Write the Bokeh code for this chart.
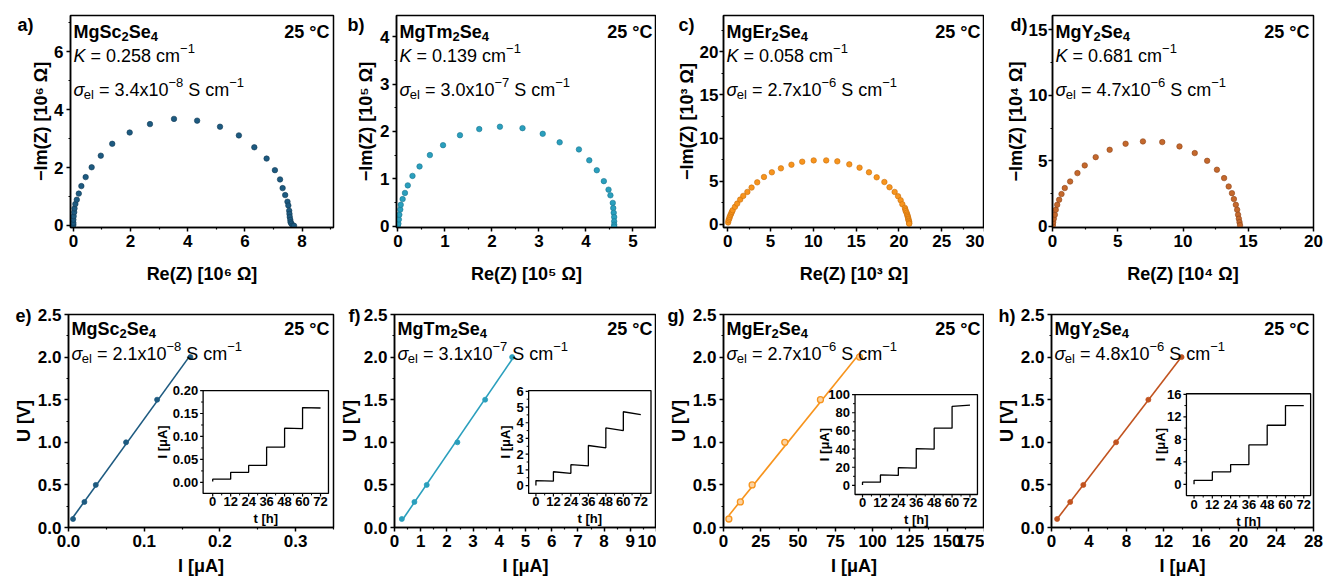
import numpy as np
from bokeh.plotting import figure
from bokeh.layouts import row, column
from bokeh.models import Range1d, FixedTicker, PrintfTickFormatter, Label
from bokeh.core.properties import value
from bokeh.embed import file_html
from bokeh.resources import INLINE

FONT = "Liberation Sans"

# ---------------- data: impedance (top row) ----------------
a_re = [0.0, 0.0, 0.0, 0.01, 0.03, 0.04, 0.07, 0.12, 0.19, 0.28, 0.43, 0.64, 0.96, 1.36, 1.97, 2.68,
        3.52, 4.33, 5.13, 5.79, 6.33, 6.76, 7.05, 7.23, 7.32, 7.41, 7.49, 7.52, 7.55, 7.56, 7.57,
        7.59, 7.60, 7.63, 7.67, 7.72]
a_im = [0.02, 0.09, 0.20, 0.32, 0.46, 0.59, 0.74, 0.89, 1.10, 1.36, 1.67, 2.01, 2.41, 2.82, 3.21, 3.50,
        3.68, 3.62, 3.41, 3.11, 2.70, 2.31, 1.91, 1.59, 1.29, 1.05, 0.82, 0.69, 0.51, 0.40, 0.29,
        0.19, 0.11, 0.06, 0.00, -0.01]

b_re = [0.0, 0.01, 0.02, 0.03, 0.05, 0.06, 0.10, 0.15, 0.21, 0.31, 0.46, 0.68, 0.96, 1.32, 1.73, 2.17,
        2.65, 3.08, 3.44, 3.85, 4.07, 4.23, 4.38, 4.48, 4.52, 4.57, 4.58, 4.59, 4.60, 4.60, 4.60, 4.60]
b_im = [0.0, 0.05, 0.14, 0.24, 0.35, 0.45, 0.57, 0.70, 0.86, 1.06, 1.26, 1.50, 1.71, 1.92, 2.05, 2.10,
        2.07, 1.95, 1.77, 1.62, 1.39, 1.18, 0.95, 0.77, 0.65, 0.49, 0.38, 0.28, 0.19, 0.10, 0.03, -0.01]

c_re = [0.04, 0.09, 0.18, 0.22, 0.31, 0.40, 0.48, 0.57, 0.84, 1.10, 1.45, 1.81, 2.29, 2.78, 3.44, 4.23,
        5.15, 6.21, 7.44, 8.70, 10.04, 11.5, 12.8, 14.2, 15.4, 16.5, 17.4, 18.3, 18.9, 19.5, 19.9,
        20.2, 20.4, 20.7, 20.75, 20.8, 20.9, 20.97, 21.0, 21.06, 21.1, 21.1, 21.15, 21.2, 21.2, 21.2]
c_im = [0.23, 0.50, 0.69, 0.88, 1.08, 1.27, 1.46, 1.65, 2.04, 2.42, 2.88, 3.31, 3.77, 4.27, 4.88, 5.50,
        6.04, 6.50, 6.92, 7.27, 7.42, 7.42, 7.31, 6.96, 6.58, 6.04, 5.46, 4.92, 4.31, 3.77, 3.27,
        2.81, 2.35, 1.92, 1.73, 1.54, 1.35, 1.15, 1.00, 0.85, 0.69, 0.58, 0.42, 0.31, 0.15, 0.08]

d_re = [0.03, 0.05, 0.10, 0.18, 0.25, 0.36, 0.51, 0.69, 0.94, 1.35, 1.91, 2.47, 3.31, 4.38, 5.60, 6.93,
        8.41, 9.73, 10.9, 11.85, 12.6, 13.15, 13.5, 13.75, 13.9, 14.05, 14.15, 14.22, 14.28, 14.33, 14.37]
d_im = [0.10, 0.33, 0.59, 0.89, 1.27, 1.65, 2.04, 2.47, 2.93, 3.43, 4.07, 4.66, 5.29, 5.85, 6.31, 6.49,
        6.44, 6.11, 5.60, 5.01, 4.33, 3.69, 3.05, 2.54, 2.09, 1.65, 1.27, 0.89, 0.59, 0.33, 0.10]

# ---------------- data: DC polarisation (bottom row) ----------------
U_V = [0.1, 0.3, 0.5, 1.0, 1.5, 2.0]
I_e = [0.006, 0.021, 0.036, 0.076, 0.117, 0.161]
I_f = [0.28, 0.76, 1.23, 2.40, 3.46, 4.49]
I_g = [3.6, 11.3, 19.2, 41.1, 65.0, 91.2]
I_h = [0.6, 2.0, 3.4, 6.9, 10.35, 13.9]

# insets: current vs time (value at start / end of each 12 h step)
t_steps = [0, 12, 24, 36, 48, 60, 72]
e_i0 = 0.002
e_start = [0.007, 0.022, 0.037, 0.077, 0.118, 0.163]
e_end = [0.007, 0.022, 0.037, 0.077, 0.117, 0.162]
f_i0 = 0.0
f_start = [0.32, 0.88, 1.33, 2.55, 3.67, 4.70]
f_end = [0.28, 0.78, 1.25, 2.40, 3.50, 4.52]
g_i0 = 0.5
g_start = [3.5, 11.5, 19.5, 40.5, 63.0, 87.0]
g_end = [3.5, 11.0, 19.0, 40.0, 63.0, 88.5]
h_i0 = 0.0
h_start = [0.7, 2.2, 3.5, 7.0, 10.5, 14.0]
h_end = [0.7, 2.2, 3.5, 7.0, 10.5, 14.0]

# text pieces of compound names: (text, is_subscript)
compounds = [[("MgSc", False), ("2", True), ("Se", False), ("4", True)],
             [("MgTm", False), ("2", True), ("Se", False), ("4", True)],
             [("MgEr", False), ("2", True), ("Se", False), ("4", True)],
             [("MgY", False), ("2", True), ("Se", False), ("4", True)]]
K_values = ["0.258", "0.139", "0.058", "0.681"]
sigma_eis = [("3.4x10", "−8"), ("3.0x10", "−7"), ("2.7x10", "−6"), ("4.7x10", "−6")]
sigma_dc = [("2.1x10", "−8"), ("3.1x10", "−7"), ("2.7x10", "−6"), ("4.8x10", "−6")]
exponents = ["⁶", "⁵", "³", "⁴"]
letters_top = ["a)", "b)", "c)", "d)"]
letters_bot = ["e)", "f)", "g)", "h)"]

colors_top = ["#1d5a80", "#2a9fbd", "#f7941d", "#c4682c"]
edges_top = ["#123a55", "#1a7590", "#c96f0c", "#8f4519"]
colors_bot = ["#1d5a80", "#2a9fbd", "#f7941d", "#c1531f"]

# ---------------- layout geometry ----------------
col_w = [336, 320, 328, 340]
top_bl = [70, 59, 67, 68]
top_br = [3, 0, 0, 11]
bot_bl = [68, 57, 67, 67]
bot_br = [3, 0, 0, 11]
top_ystd = [0, 1, 0, 0]
top_tstd = [3, 3, 1, 1]
TOP_H, TOP_BT, TOP_BB = 290, 15, 63
BOT_H, BOT_BT, BOT_BB = 291, 24, 54
letter_dx_top = [-53, -49, -45, -42]
letter_dx_bot = [-53, -46, -56, -53]

# Liberation Sans (Arial metrics) advance widths, in em
W_REG = {" ": .278, ".": .278, "=": .584, "x": .5, "c": .5, "m": .833, "S": .667, "K": .667,
         "−": .584, "e": .556, "l": .222, "σ": .57}
W_BOLD = {" ": .278, "M": .833, "g": .611, "S": .667, "c": .556, "T": .611, "m": .889, "E": .667,
          "r": .389, "Y": .667, "e": .556}


def text_w(s, size, bold=False):
    tbl = W_BOLD if bold else W_REG
    return sum(tbl.get(ch, 0.556) for ch in s) * size


def make_fig(w, h, bl, br, bt, bb, xr, yr):
    p = figure(width=w, height=h, x_range=Range1d(*xr), y_range=Range1d(*yr),
               output_backend="svg", toolbar_location=None,
               min_border_left=bl, min_border_right=br, min_border_top=bt, min_border_bottom=bb)
    p.xgrid.visible = False
    p.ygrid.visible = False
    p.outline_line_color = "black"
    p.outline_line_width = 1.5
    p.outline_line_alpha = 1.0
    p.background_fill_color = "white"
    p.border_fill_color = "white"
    return p


def style_axes(p, xt, xm, yt, ym, xfmt, yfmt, xlabel, ylabel, x_std, y_std, ytick_std=3):
    p.xaxis.ticker = FixedTicker(ticks=xt, minor_ticks=xm)
    p.yaxis.ticker = FixedTicker(ticks=yt, minor_ticks=ym)
    p.xaxis.formatter = PrintfTickFormatter(format=xfmt)
    p.yaxis.formatter = PrintfTickFormatter(format=yfmt)
    p.xaxis.axis_label = xlabel
    p.yaxis.axis_label = ylabel
    p.xaxis.axis_label_standoff = x_std
    p.yaxis.axis_label_standoff = y_std
    for ax in (p.xaxis[0], p.yaxis[0]):
        ax.major_label_text_font = FONT
        ax.major_label_text_font_style = "bold"
        ax.major_label_text_font_size = "17px"
        ax.major_label_text_color = "black"
        ax.axis_label_text_font = FONT
        ax.axis_label_text_font_style = "bold"
        ax.axis_label_text_font_size = "18px"
        ax.axis_label_text_color = "black"
        ax.axis_line_width = 1.5
        ax.axis_line_color = "black"
        ax.major_tick_line_width = 1.5
        ax.major_tick_out = 4
        ax.major_tick_in = 0
        ax.minor_tick_line_width = 1.2
        ax.minor_tick_out = 2
        ax.minor_tick_in = 0
        ax.major_label_standoff = 3
    p.yaxis[0].major_label_standoff = ytick_std


def make_label(p, text, dx, dy, size, style="normal", align="left", baseline="alphabetic", right=False):
    xr, yr = p.x_range, p.y_range
    return Label(x=xr.end if right else xr.start, y=yr.end, x_offset=dx, y_offset=dy, text=text,
                 text_font=FONT, text_font_size="%dpx" % size, text_font_style=style,
                 text_align=align, text_baseline=baseline, text_color="black")


def put(p, text, dx, dy, size, style="normal", align="left", right=False):
    p.add_layout(make_label(p, text, dx, dy, size, style, align, right=right))


def put_seq(p, pieces, x0, dy):
    """pieces: (text, size, style, vertical shift); leading spaces become advance."""
    x = x0
    for txt, size, style, shift in pieces:
        bold = "bold" in style
        core = txt.lstrip(" ")
        x += (len(txt) - len(core)) * 0.278 * size
        put(p, core, x, dy + shift, size, style)
        x += text_w(core, size, bold)


def compound_label(p, pieces, dy):
    seq = [(t, 13, "bold", -5) if is_sub else (t, 18, "bold", 0) for t, is_sub in pieces]
    put_seq(p, seq, 3, dy)


def K_line(p, kval, dy):
    put_seq(p, [("K", 18, "italic", 0), (" = " + kval + " cm", 18, "normal", 0),
                ("−1", 13, "normal", 7)], 3, dy)


def sigma_line(p, sig, dy):
    mant, expo = sig
    put_seq(p, [("σ", 18, "italic", 0), ("el", 13, "normal", -5), (" = " + mant, 18, "normal", 0),
                (expo, 13, "normal", 7), (" S cm", 18, "normal", 0), ("−1", 13, "normal", 7)], 3, dy)


def step_path(t, i0, starts, ends):
    xs, ys = [t[0]], [i0]
    for k in range(len(starts)):
        xs += [t[k], t[k + 1]]
        ys += [starts[k], ends[k]]
    return xs, ys


def add_inset(p, fw, fh, box, xr_in, yr_in, path, yt, ym, yfmt, ylab_dx):
    xs, xe = p.x_range.start, p.x_range.end
    ys, ye = p.y_range.start, p.y_range.end
    X0, X1 = xs + box[0] * (xe - xs), xs + box[1] * (xe - xs)
    Y0, Y1 = ys + box[2] * (ye - ys), ys + box[3] * (ye - ys)
    sub = p.subplot(x_source=Range1d(*xr_in), y_source=Range1d(*yr_in),
                    x_target=Range1d(X0, X1), y_target=Range1d(Y0, Y1))
    w_px = (box[1] - box[0]) * fw
    h_px = (box[3] - box[2]) * fh
    dx = (xr_in[1] - xr_in[0]) / w_px
    dy = (yr_in[1] - yr_in[0]) / h_px
    sub.quad(left=[xr_in[0]], right=[xr_in[1]], bottom=[yr_in[0]], top=[yr_in[1]],
             fill_color="white", line_color="black", line_width=1.3)
    sub.line(path[0], path[1], line_color="black", line_width=1.3)
    xt = t_steps
    xm = [v + 6 for v in t_steps[:-1]]
    sub.segment(x0=xt, y0=[yr_in[0]] * len(xt), x1=xt, y1=[yr_in[0] - 3 * dy] * len(xt),
                line_color="black", line_width=1.2)
    sub.segment(x0=xm, y0=[yr_in[0]] * len(xm), x1=xm, y1=[yr_in[0] - 2 * dy] * len(xm),
                line_color="black", line_width=1.0)
    sub.segment(x0=[xr_in[0]] * len(yt), y0=yt, x1=[xr_in[0] - 3 * dx] * len(yt), y1=yt,
                line_color="black", line_width=1.2)
    sub.segment(x0=[xr_in[0]] * len(ym), y0=ym, x1=[xr_in[0] - 2 * dx] * len(ym), y1=ym,
                line_color="black", line_width=1.0)
    tf = dict(text_font=value(FONT), text_font_style="bold", text_font_size="13px", text_color="black")
    sub.text(x=xt, y=[yr_in[0]] * len(xt), text=[str(v) for v in xt], y_offset=4,
             text_align="center", text_baseline="top", **tf)
    sub.text(x=[xr_in[0]] * len(yt), y=yt, text=[yfmt % v for v in yt], x_offset=-5,
             text_align="right", text_baseline="middle", **tf)
    sub.text(x=[(xr_in[0] + xr_in[1]) / 2], y=[yr_in[0]], text=["t [h]"], y_offset=18,
             text_align="center", text_baseline="top", **tf)
    sub.text(x=[xr_in[0]], y=[(yr_in[0] + yr_in[1]) / 2], text=["I [μA]"], x_offset=ylab_dx,
             angle=np.pi / 2, text_align="center", text_baseline="middle", **tf)


# ---------------- top row ----------------
top_data = [(a_re, a_im), (b_re, b_im), (c_re, c_im), (d_re, d_im)]
top_xr = [(-0.1, 9.1), (-0.03, 5.5), (-0.5, 30.0), (0.0, 20.0)]
top_yr = [(-0.07, 7.25), (-0.03, 4.45), (-0.35, 24.2), (-0.08, 16.1)]
top_xt = [([0, 2, 4, 6, 8], [1, 3, 5, 7, 9]),
          ([0, 1, 2, 3, 4, 5], [0.5, 1.5, 2.5, 3.5, 4.5]),
          ([0, 5, 10, 15, 20, 25, 30], [2.5, 7.5, 12.5, 17.5, 22.5, 27.5]),
          ([0, 5, 10, 15, 20], [2.5, 7.5, 12.5, 17.5])]
top_yt = [([0, 2, 4, 6], [1, 3, 5, 7]),
          ([0, 1, 2, 3, 4], [0.5, 1.5, 2.5, 3.5]),
          ([0, 5, 10, 15, 20], [2.5, 7.5, 12.5, 17.5, 22.5]),
          ([0, 5, 10, 15], [2.5, 7.5, 12.5])]

top_figs = []
for k in range(4):
    p = make_fig(col_w[k], TOP_H, top_bl[k], top_br[k], TOP_BT, TOP_BB, top_xr[k], top_yr[k])
    style_axes(p, top_xt[k][0], top_xt[k][1], top_yt[k][0], top_yt[k][1], "%d", "%d",
               "Re(Z) [10" + exponents[k] + " Ω]", "−Im(Z) [10" + exponents[k] + " Ω]", 14,
               top_ystd[k], top_tstd[k])
    p.scatter(top_data[k][0], top_data[k][1], size=5.5, fill_color=colors_top[k],
              line_color=edges_top[k], line_width=0.6)
    compound_label(p, compounds[k], -16)
    put(p, "25 °C", -4, -16, 18, "bold", align="right", right=True)
    K_line(p, K_values[k], -40)
    sigma_line(p, sigma_eis[k], -74)
    p.add_layout(make_label(p, letters_top[k], letter_dx_top[k], -9, 18, "bold", baseline="middle"), "left")
    top_figs.append(p)

# ---------------- bottom row ----------------
bot_I = [I_e, I_f, I_g, I_h]
bot_xr = [(0, 0.35), (0, 10), (0, 175), (0, 28)]
bot_xt = [([0.0, 0.1, 0.2, 0.3], [0.05, 0.15, 0.25, 0.35]),
          (list(range(0, 11)), [v + 0.5 for v in range(0, 10)]),
          ([0, 25, 50, 75, 100, 125, 150, 175], [12.5, 37.5, 62.5, 87.5, 112.5, 137.5, 162.5]),
          ([0, 4, 8, 12, 16, 20, 24, 28], [2, 6, 10, 14, 18, 22, 26])]
bot_xfmt = ["%.1f", "%d", "%d", "%d"]
yt_main = [0.0, 0.5, 1.0, 1.5, 2.0, 2.5]
ym_main = [0.25, 0.75, 1.25, 1.75, 2.25]

inset_box = [(0.508, 0.981, 0.160, 0.643), (0.512, 0.979, 0.160, 0.643),
             (0.504, 0.973, 0.155, 0.624), (0.515, 0.989, 0.150, 0.628)]
inset_xr = [(-6.4, 77.3), (-5.0, 79.0), (-5.0, 77.0), (-5.0, 76.5)]
inset_yr = [(-0.024, 0.2), (-0.5, 6.05), (-10.0, 100.0), (-2.0, 16.1)]
inset_paths = [step_path(t_steps, e_i0, e_start, e_end), step_path(t_steps, f_i0, f_start, f_end),
               step_path(t_steps, g_i0, g_start, g_end), step_path(t_steps, h_i0, h_start, h_end)]
inset_yt = [([0.0, 0.05, 0.10, 0.15, 0.20], [0.025, 0.075, 0.125, 0.175], "%.2f"),
            ([0, 1, 2, 3, 4, 5, 6], [0.5, 1.5, 2.5, 3.5, 4.5, 5.5], "%d"),
            ([0, 20, 40, 60, 80, 100], [10, 30, 50, 70, 90], "%d"),
            ([0, 4, 8, 12, 16], [2, 6, 10, 14], "%d")]
inset_ylab_dx = [-41, -23, -31, -26]

bot_figs = []
for k in range(4):
    p = make_fig(col_w[k], BOT_H, bot_bl[k], bot_br[k], BOT_BT, BOT_BB, bot_xr[k], (0, 2.5))
    style_axes(p, bot_xt[k][0], bot_xt[k][1], yt_main, ym_main, bot_xfmt[k], "%.1f",
               "I [μA]", "U [V]", 6, 1)
    slope, icpt = np.polyfit(bot_I[k], U_V, 1)
    xfit = [bot_I[k][0], bot_I[k][-1]]
    p.line(xfit, [slope * v + icpt for v in xfit], line_color=colors_bot[k], line_width=1.6)
    if k == 2:
        p.scatter(bot_I[k], U_V, size=6, fill_color="#fcd3a1", line_color=colors_bot[k], line_width=1.3)
    else:
        p.scatter(bot_I[k], U_V, size=5, fill_color=colors_bot[k], line_color=colors_bot[k], line_width=0.8)
    compound_label(p, compounds[k], -14)
    put(p, "25 °C", -4, -14, 18, "bold", align="right", right=True)
    sigma_line(p, sigma_dc[k], -39)
    fw = col_w[k] - bot_bl[k] - bot_br[k]
    fh = BOT_H - BOT_BT - BOT_BB
    add_inset(p, fw, fh, inset_box[k], inset_xr[k], inset_yr[k], inset_paths[k],
              inset_yt[k][0], inset_yt[k][1], inset_yt[k][2], inset_ylab_dx[k])
    p.add_layout(make_label(p, letters_bot[k], letter_dx_bot[k], -1, 18, "bold", baseline="middle"), "above")
    bot_figs.append(p)

layout = column(row(*top_figs), row(*bot_figs))
open("out.html", "w").write(file_html(layout, INLINE))
